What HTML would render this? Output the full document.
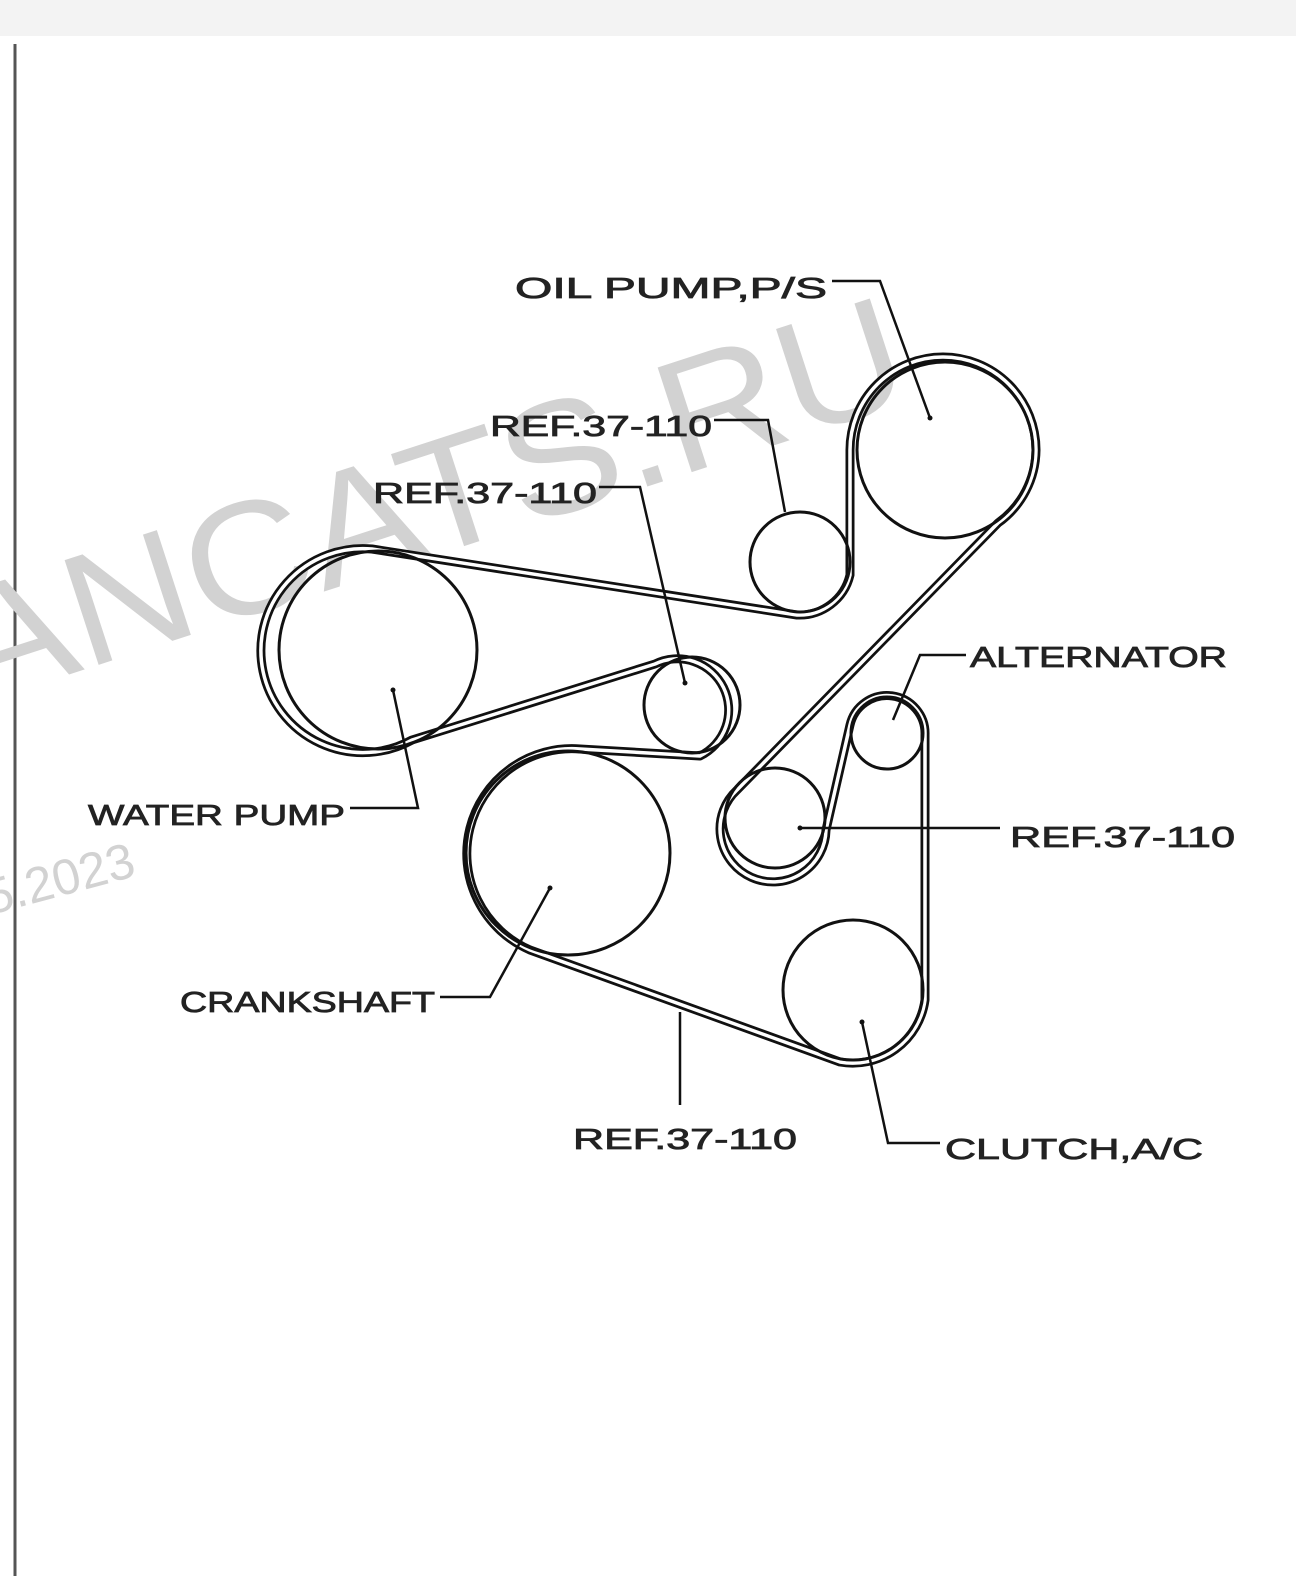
<!DOCTYPE html>
<html><head><meta charset="utf-8"><style>
html,body{margin:0;padding:0;background:#fff;}
svg{display:block}
text{font-family:"Liberation Sans",sans-serif;}
</style></head><body>
<svg width="1296" height="1576" viewBox="0 0 1296 1576" xmlns="http://www.w3.org/2000/svg">
<rect x="0" y="0" width="1296" height="36" fill="#f3f3f3"/>
<line x1="15" y1="44" x2="15" y2="1576" stroke="#555" stroke-width="3"/>
<!-- watermark -->
<g fill="#d2d2d2">
<text x="0" y="0" font-size="160" transform="translate(-25,705) rotate(-18)" textLength="990" lengthAdjust="spacingAndGlyphs">ANCATS.RU</text>
<text x="0" y="0" font-size="50" transform="translate(-10,915) rotate(-15)">5.2023</text>
</g>
<!-- belt -->
<path d="M 372 549 L 797 615 A 52 52 0 0 0 850 575 L 850 450 A 91 91 0 0 1 1036 450 A 91 91 0 0 1 998 523 L 737 790 A 53 53 0 1 0 826 830 L 850 725 A 38 38 0 0 1 925 735 L 925 1000 A 73 73 0 0 1 840 1062 L 530 950 A 105 105 0 0 1 580 749 L 700 756 A 51 51 0 1 0 655 664 L 412 740 A 102 102 0 1 1 372 549 Z" fill="none" stroke="#111" stroke-width="9" stroke-linejoin="round"/>
<path d="M 372 549 L 797 615 A 52 52 0 0 0 850 575 L 850 450 A 91 91 0 0 1 1036 450 A 91 91 0 0 1 998 523 L 737 790 A 53 53 0 1 0 826 830 L 850 725 A 38 38 0 0 1 925 735 L 925 1000 A 73 73 0 0 1 840 1062 L 530 950 A 105 105 0 0 1 580 749 L 700 756 A 51 51 0 1 0 655 664 L 412 740 A 102 102 0 1 1 372 549 Z" fill="none" stroke="#fff" stroke-width="3.5" stroke-linejoin="round"/>
<!-- pulleys -->
<g fill="none" stroke="#111" stroke-width="3">
<circle cx="945" cy="450" r="88"/>
<circle cx="800" cy="562" r="50"/>
<circle cx="378" cy="650" r="99"/>
<circle cx="692" cy="705" r="48"/>
<circle cx="568" cy="853" r="102"/>
<circle cx="775" cy="818" r="50"/>
<circle cx="887" cy="733" r="36"/>
<circle cx="853" cy="990" r="70"/>
</g>
<!-- leaders -->
<g fill="none" stroke="#111" stroke-width="2.5">
<polyline points="832,281 880,281 930,418"/>
<polyline points="714,420 768,420 785,512"/>
<polyline points="599,487 640,487 685,683"/>
<polyline points="966,655 920,655 893,720"/>
<polyline points="350,808 418,808 393,690"/>
<line x1="800" y1="828" x2="1000" y2="828"/>
<polyline points="440,997 490,997 550,888"/>
<line x1="680" y1="1012" x2="680" y2="1105"/>
<polyline points="940,1143 888,1143 862,1022"/>
</g>
<g fill="#111">
<circle cx="930" cy="418" r="2.5"/><circle cx="685" cy="683" r="2.5"/><circle cx="393" cy="690" r="2.5"/>
<circle cx="800" cy="828" r="2.5"/><circle cx="550" cy="888" r="2.5"/><circle cx="862" cy="1022" r="2.5"/>
</g>
<g fill="#222" stroke="#222" stroke-width="0.8" font-size="29">
<text x="515" y="298" textLength="312" lengthAdjust="spacingAndGlyphs">OIL PUMP,P/S</text>
<text x="490" y="436" textLength="222" lengthAdjust="spacingAndGlyphs">REF.37-110</text>
<text x="373" y="503" textLength="224" lengthAdjust="spacingAndGlyphs">REF.37-110</text>
<text x="970" y="667" textLength="257" lengthAdjust="spacingAndGlyphs">ALTERNATOR</text>
<text x="88" y="825" textLength="257" lengthAdjust="spacingAndGlyphs">WATER PUMP</text>
<text x="1010" y="847" textLength="225" lengthAdjust="spacingAndGlyphs">REF.37-110</text>
<text x="180" y="1012" textLength="255" lengthAdjust="spacingAndGlyphs">CRANKSHAFT</text>
<text x="573" y="1149" textLength="224" lengthAdjust="spacingAndGlyphs">REF.37-110</text>
<text x="945" y="1159" textLength="258" lengthAdjust="spacingAndGlyphs">CLUTCH,A/C</text>
</g>
</svg>
</body></html>
